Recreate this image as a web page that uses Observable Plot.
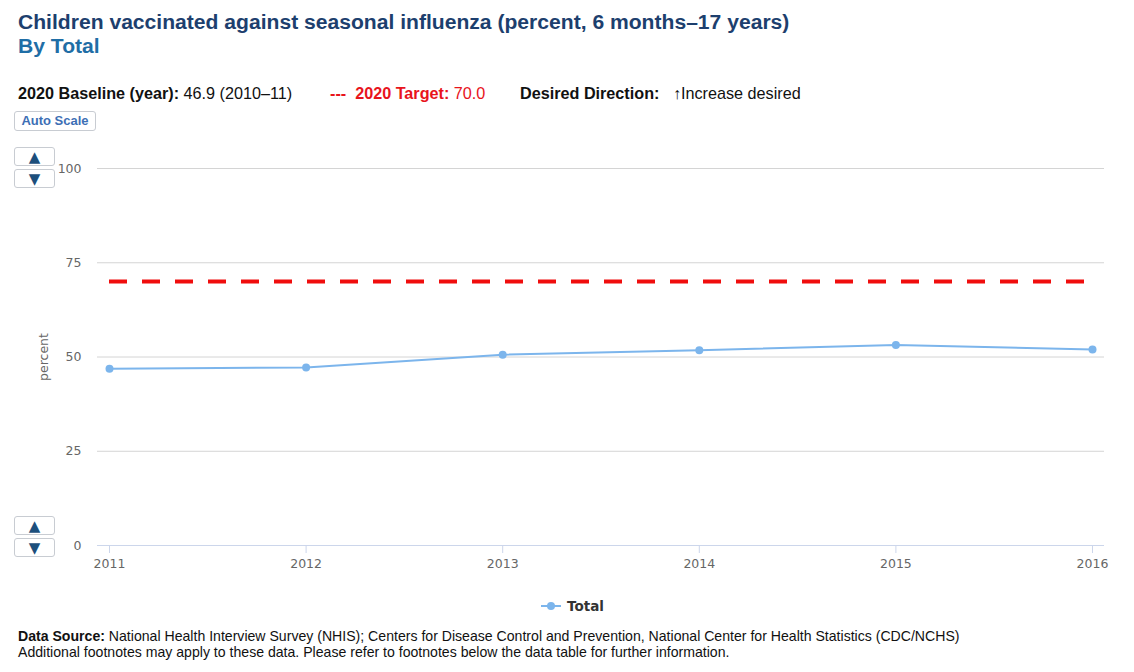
<!DOCTYPE html>
<html>
<head>
<meta charset="utf-8">
<script src="https://cdn.jsdelivr.net/npm/d3@7"></script>
<script src="https://cdn.jsdelivr.net/npm/@observablehq/plot@0.6"></script>
<style>
  html, body { margin: 0; padding: 0; }
  body { width: 1134px; height: 672px; position: relative; background: #fff; font-family: "Liberation Sans", Arial, sans-serif; overflow: hidden; }
  .abs { position: absolute; white-space: nowrap; }
  .title { left: 18px; top: 9px; font-size: 21.1px; font-weight: bold; color: #1d3f6e; line-height: 25px; }
  .sub { left: 18px; top: 33px; font-size: 21.1px; font-weight: bold; color: #1f6ea6; line-height: 25px; }
  .info { top: 83px; font-size: 16.2px; color: #111; line-height: 20px; }
  .btn { border: 1px solid #c8ccd2; border-radius: 3px; background: #fff; box-sizing: border-box; }
  .auto { left: 14px; top: 111px; width: 82px; height: 20px; font-size: 13px; font-weight: bold; color: #3d6fb5; text-align: center; line-height: 18px; }
  .arr { left: 14px; width: 41px; height: 19px; color: #1c4f7c; font-size: 15px; text-align: center; line-height: 18px; font-family: "DejaVu Sans", sans-serif; }
  .legend { left: 541px; top: 597px; font-size: 13.5px; font-weight: bold; color: #333; line-height: 18px; display: flex; align-items: center; font-family: "DejaVu Sans", sans-serif; }
  .foot { left: 18px; font-size: 14.1px; color: #111; line-height: 16px; }
  #chart { position: absolute; left: 0; top: 140px; }
</style>
</head>
<body>
<div class="abs title">Children vaccinated against seasonal influenza (percent, 6 months–17 years)</div>
<div class="abs sub">By Total</div>
<div class="abs info" style="left:18px"><b>2020 Baseline (year):</b> 46.9 (2010–11)</div>
<div class="abs info" style="left:330px; color:#e8141c"><b>---</b> &nbsp;<b>2020 Target:</b> 70.0</div>
<div class="abs info" style="left:520px"><b>Desired Direction:</b>&nbsp;&nbsp; ↑Increase desired</div>
<div class="abs btn auto">Auto Scale</div>
<div class="abs btn arr" style="top:147px">▲</div>
<div class="abs btn arr" style="top:169px">▼</div>
<div class="abs btn arr" style="top:516px">▲</div>
<div class="abs btn arr" style="top:538px">▼</div>
<div id="chart"></div>
<div class="abs legend"><svg width="20" height="10" style="margin-right:6px"><line x1="0" y1="5" x2="20" y2="5" stroke="#7cb5ec" stroke-width="2"/><circle cx="10" cy="5" r="4" fill="#7cb5ec"/></svg>Total</div>
<div class="abs foot" style="top:628px"><b>Data Source:</b> National Health Interview Survey (NHIS); Centers for Disease Control and Prevention, National Center for Health Statistics (CDC/NCHS)</div>
<div class="abs foot" style="top:644px">Additional footnotes may apply to these data. Please refer to footnotes below the data table for further information.</div>
<script>
const years = [2011, 2012, 2013, 2014, 2015, 2016];
const totalValues = [46.9, 47.2, 50.6, 51.8, 53.2, 52.0];
const targetValue = 70.0;
const yTicks = [0, 25, 50, 75, 100];

const data = years.map((year, i) => ({year, value: totalValues[i]}));

const chart = Plot.plot({
  width: 1134,
  height: 440,
  marginTop: 28,
  marginBottom: 35,
  marginLeft: 97,
  marginRight: 30,
  style: {fontFamily: "DejaVu Sans, sans-serif", fontSize: "12.5px", color: "#666", background: "transparent"},
  x: {domain: [years[0], years[years.length - 1]], inset: 12},
  y: {domain: [0, 100]},
  marks: [
    Plot.gridY(yTicks.filter(d => d > 0), {stroke: "#d4d4d4", strokeOpacity: 1}),
    Plot.ruleY([0], {stroke: "#ccd6eb"}),
    Plot.axisX(years, {tickFormat: "d", tickSize: 8, tickPadding: 6, stroke: "#ccd6eb", fill: "#666", fontSize: 12.5, label: null}),
    Plot.axisY(yTicks, {tickSize: 0, tickPadding: 16, fill: "#666", fontSize: 12.5, label: "percent", labelAnchor: "center", labelArrow: "none", labelOffset: 58}),
    Plot.ruleY([targetValue], {x1: years[0], x2: years[years.length - 1], stroke: "#f00d0d", strokeWidth: 4, strokeDasharray: "18,15"}),
    Plot.line(data, {x: "year", y: "value", stroke: "#7cb5ec", strokeWidth: 2}),
    Plot.dot(data, {x: "year", y: "value", r: 4, fill: "#7cb5ec", stroke: "none"})
  ]
});
document.getElementById("chart").appendChild(chart);
</script>
</body>
</html>
